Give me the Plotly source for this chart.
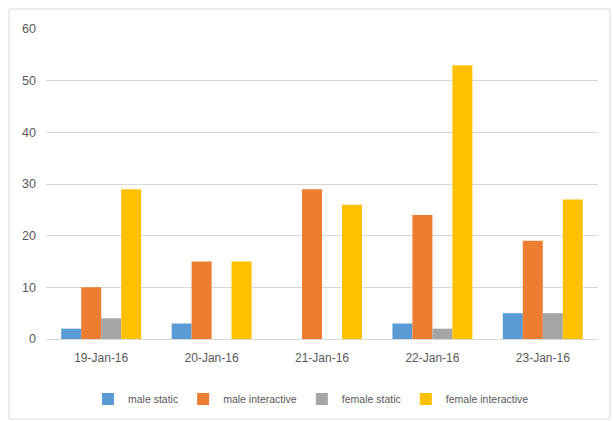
import plotly.graph_objects as go

dates = ["19-Jan-16", "20-Jan-16", "21-Jan-16", "22-Jan-16", "23-Jan-16"]
male_static = [2, 3, 0, 3, 5]
male_interactive = [10, 15, 29, 24, 19]
female_static = [4, 0, 0, 2, 5]
female_interactive = [29, 15, 26, 53, 27]

series = [
    ("male static", male_static, "#5B9BD5"),
    ("male interactive", male_interactive, "#ED7D31"),
    ("female static", female_static, "#A5A5A5"),
    ("female interactive", female_interactive, "#FFC000"),
]

fig = go.Figure()
for name, vals, color in series:
    fig.add_trace(go.Bar(x=dates, y=vals, name=name, marker_color=color,
                         marker_line_width=0))

W, H = 613, 421
L, R, T, B = 46, 15, 29, 82
pw, ph = W - L - R, H - T - B

def px_x(v):
    return (v - L) / pw

def px_y(v):
    return (H - B - v) / ph

FONT = "Liberation Sans, sans-serif"

fig.update_layout(
    width=W, height=H,
    margin=dict(l=L, r=R, t=T, b=B, autoexpand=False),
    paper_bgcolor="white", plot_bgcolor="white",
    barmode="group", bargap=0.276, bargroupgap=0,
    font=dict(family=FONT, size=12, color="#595959"),
    legend=dict(orientation="h", x=0.48, xanchor="center",
                yref="container", y=(H - 399) / H, yanchor="middle",
                font=dict(family=FONT, size=10.5, color="#595959"),
                itemwidth=30),
    xaxis=dict(showgrid=False, showline=True, linecolor="#d9d9d9",
               linewidth=1, ticks="", ticklabelstandoff=8,
               tickfont=dict(family=FONT, size=12)),
    yaxis=dict(range=[0, 60], dtick=10, showgrid=True, gridcolor="#d9d9d9",
               gridwidth=1, zeroline=False, showline=False, ticks="",
               ticklabelstandoff=9, tickfont=dict(family=FONT, size=12.5)),
    shapes=[dict(type="rect", xref="paper", yref="paper",
                 x0=px_x(9), x1=px_x(610), y0=px_y(419), y1=px_y(9),
                 line=dict(color="#d9d9d9", width=1), layer="below")],
)

fig.write_html("out.html")
